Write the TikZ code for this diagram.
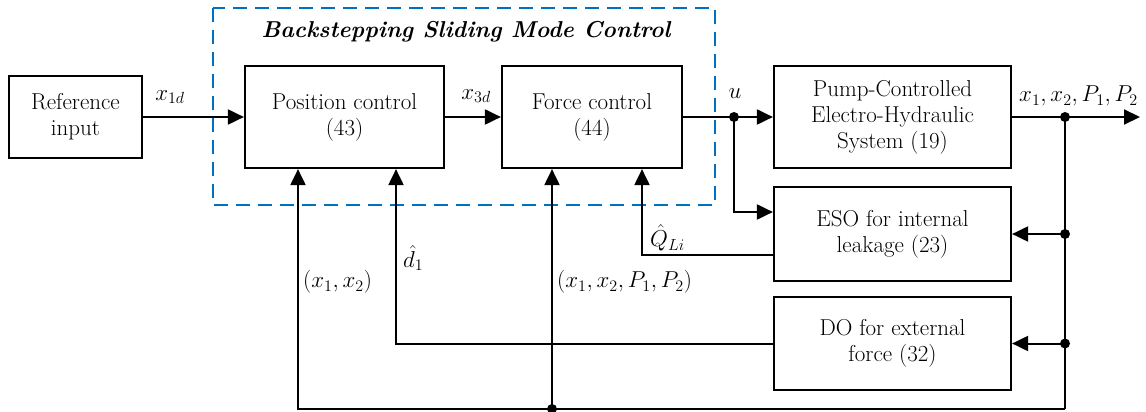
\RequirePackage{fix-cm}
\documentclass[tikz,border=0pt]{standalone}
\usepackage{amsmath}
\usepackage{tikz}
\usetikzlibrary{positioning, arrows.meta, calc}
\definecolor{ctlblue}{RGB}{0,112,192}
\tikzset{
  blk/.style  = {draw, rectangle, align=center, inner sep=0pt, line width=2.2pt,
                 font=\fontsize{23}{26}\selectfont},
  ar/.style   = {-{Triangle[length=16pt,width=15pt]}, line width=2pt},
  ln/.style   = {line width=2pt},
  dot/.style  = {circle, fill=black, inner sep=0pt, minimum size=10pt},
  lbl/.style  = {font=\fontsize{23}{26}\selectfont, inner sep=1pt},
}

\begin{document}
\begin{tikzpicture}[x=1pt, y=-1pt]
  \useasboundingbox (0,0) rectangle (1146,412);
  % controller frame
  \draw[ctlblue, line width=2pt, dash pattern=on 14pt off 8pt] (213,8) rectangle (715,205);
  \node[font=\fontsize{23}{26}\selectfont\bfseries\itshape] (title) at (466,32) {Backstepping Sliding Mode Control};
  % blocks
  \node[blk, minimum width=133pt, minimum height=82pt]  (ref)   at (75.5,117)  {Reference\\input};
  \node[blk, minimum width=199pt, minimum height=102pt] (pos)   at (344.5,117) {Position control\\(43)};
  \node[blk, minimum width=180pt, minimum height=102pt] (force) at (592,117)   {Force control\\(44)};
  \node[blk, minimum width=237pt, minimum height=102pt] (pump)  at (892.5,117) {Pump-Controlled\\Electro-Hydraulic\\System (19)};
  \node[blk, minimum width=237pt, minimum height=94pt]  (eso)   at (892.5,234) {ESO for internal\\leakage (23)};
  \node[blk, minimum width=237pt, minimum height=93pt]  (dob)   at (892.5,343.5) {DO for external\\force (32)};
  % branch points
  \node[dot] (ud)   at (734,117) {};
  \node[dot] (yd)   at (1065,117) {};
  \node[dot] (yeso) at (1065,234) {};
  \node[dot] (ydo)  at (1065,343.5) {};
  \node[dot] (bd)   at (552,409) {};
  \coordinate (br)   at (1065,409);
  \coordinate (oend) at (1140,117);
  % forward path
  \draw[ar] (ref) -- (pos);
  \draw[ar] (pos) -- (force);
  \draw[ar] (force) -- (pump);
  \draw[ar] (ud.center) |- ([yshift=22pt]eso.west);
  \draw[ar] (pump) -- (oend);
  % feedback
  \draw[ln] (yd.center) -- (br);
  \draw[ar] (br) -| ([xshift=-46.5pt]pos.south);
  \draw[ar] (bd.center) -- ([xshift=-40pt]force.south);
  \draw[ar] (yeso.center) -- (eso.east);
  \draw[ar] (ydo.center) -- (dob.east);
  \draw[ar] ([yshift=-21pt]eso.west) -| ([xshift=50pt]force.south);
  \draw[ar] (dob.west) -| ([xshift=51.5pt]pos.south);
  % labels
  \node[lbl] (lx1d) at (170,97) {$x_{1d}$};
  \node[lbl] (lx3d) at (476,96) {$x_{3d}$};
  \node[lbl] (lu)   at (735,94) {$u$};
  \node[lbl, anchor=west] (ly)   at (1018,96) {$x_1, x_2, P_1, P_2$};
  \node[lbl, anchor=west] (ld1)  at (402,258) {$\hat{d}_1$};
  \node[lbl, anchor=west] (lq)   at (649,238) {$\hat{Q}_{Li}$};
  \node[lbl, anchor=west] (lx12) at (302,282) {$(x_1, x_2)$};
  \node[lbl, anchor=west] (lall) at (556,282) {$(x_1, x_2, P_1, P_2)$};
\end{tikzpicture}
\end{document}
